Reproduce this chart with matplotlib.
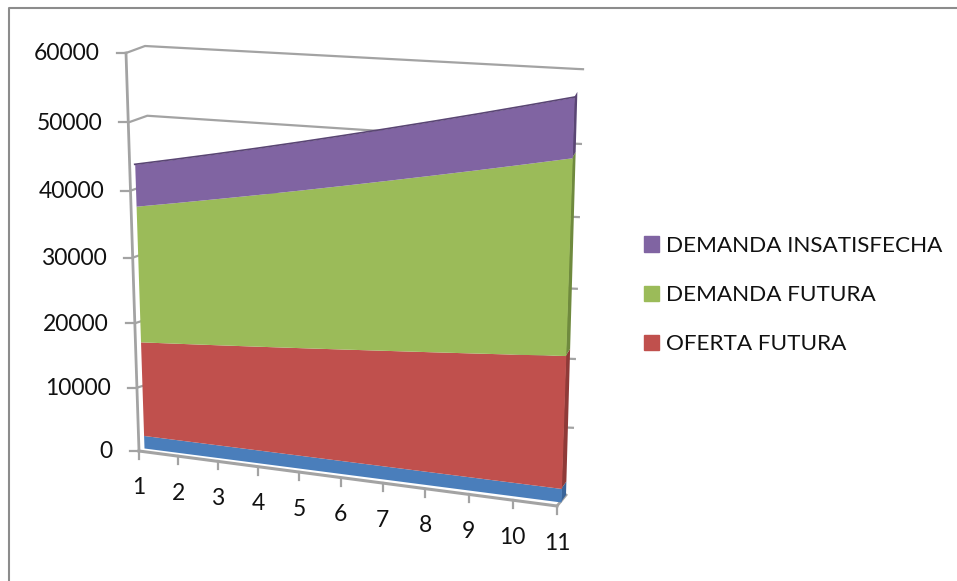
import matplotlib
matplotlib.use("Agg")
import matplotlib.pyplot as plt
import numpy as np
from matplotlib.patches import Patch
from matplotlib.transforms import Transform

plt.rcParams["font.family"] = ["Lato", "DejaVu Sans"]

periods = list(range(1, 12))
y_ticks = [0, 10000, 20000, 30000, 40000, 50000, 60000]

serie_base = [2010, 2011, 2012, 2013, 2014, 2015, 2016, 2017, 2018, 2019, 2020]
oferta_futura = [14750, 15175, 15610, 16055, 16510, 16975, 17450, 17925, 18410, 18905, 19400]
demanda_futura = [20640, 21246, 21873, 22508, 23164, 23840, 24526, 25232, 25948, 26684, 27440]
demanda_insatisfecha = [6200, 6346, 6492, 6658, 6834, 7020, 7216, 7422, 7638, 7864, 8100]

BLUE, RED, GREEN, PURPLE = "#4a7ebb", "#c0504d", "#9bbb59", "#8064a2"
BLUE_D, RED_D, GREEN_D, PURPLE_D = "#3a6499", "#8f3a38", "#6f8a3e", "#5a4674"
GRID = "#a3a3a3"


class PlaneTransform(Transform):
    """Perspective mapping of (period, value) onto one plane of the 3D box."""

    input_dims = output_dims = 2

    def __init__(self, corners):
        super().__init__()
        src = [(1, 0), (11, 0), (1, 60000), (11, 60000)]
        rows, rhs = [], []
        for (u, v), (px, py) in zip(src, corners):
            u, v = (u - 1) / 10, v / 60000
            rows.append([u, v, 1, 0, 0, 0, -u * px, -v * px])
            rows.append([0, 0, 0, u, v, 1, -u * py, -v * py])
            rhs += [px, py]
        self.h = np.append(np.linalg.solve(rows, rhs), 1).reshape(3, 3)

    def transform_non_affine(self, values):
        pts = np.asarray(values, float)
        u, v = (pts[:, 0] - 1) / 10, pts[:, 1] / 60000
        res = np.column_stack([u, v, np.ones(len(u))]) @ self.h.T
        return res[:, :2] / res[:, 2:]


# corners are bottom-left, bottom-right, top-left, top-right of each plane
front = PlaneTransform([(139, 451), (557, 506), (126, 53), (569, 81)])
face = PlaneTransform([(144, 448), (561, 502), (131, 51), (575, 74)])
wall = PlaneTransform([(158, 445), (566, 495), (145, 46), (578, 69)])

fig = plt.figure(figsize=(9.57, 5.81), dpi=100)
ax = fig.add_axes([0, 0, 1, 1])
ax.set_xlim(0, 957)
ax.set_ylim(581, 0)
ax.set_autoscale_on(False)
ax.axis("off")

# chart frame: only the top and left edges are inside the canvas
ax.plot([9, 9, 957], [581, 8, 8], color="#8c8c8c", lw=1.5)

# back wall and side wall gridlines
for v in y_ticks:
    p_front = front.transform([(1, v)])[0]
    p_back = wall.transform([(1, v)])[0]
    p_right = wall.transform([(11, v)])[0]
    if v > 0:
        ax.plot([p_front[0], p_back[0], p_right[0], p_right[0] + 5],
                [p_front[1], p_back[1], p_right[1], p_right[1] + 0.2],
                color=GRID, lw=1.6, zorder=1)
    ax.plot([p_front[0] - 9, p_front[0]], [p_front[1], p_front[1]], color=GRID, lw=1.6, zorder=1)
    ax.annotate(str(v), xy=(1, v), xycoords=front + ax.transData, xytext=(-26, -1),
                textcoords="offset pixels", ha="right", va="center", fontsize=16.5, color="#111111")

# value axis and category axis
ax.plot([1, 1], [0, 60000], transform=front + ax.transData, color=GRID, lw=2, zorder=1)
ax.plot([1, 11], [0, 0], transform=front + ax.transData, color=GRID, lw=2.2, zorder=1)
corner = np.vstack([front.transform([(11, 0)]), wall.transform([(11, 0)])])
ax.plot(corner[:, 0], corner[:, 1], color=GRID, lw=2, zorder=1)

for i in periods:
    px, py = front.transform([(i, 0)])[0]
    ax.plot([px, px], [py, py + 8], color=GRID, lw=1.6, zorder=1)
    ax.annotate(str(i), xy=(i, 0), xycoords=front + ax.transData, xytext=(0, -37),
                textcoords="offset pixels", ha="center", va="center", fontsize=16.5, color="#111111")

# stacked areas
series = [
    (serie_base, BLUE, BLUE_D),
    (oferta_futura, RED, RED_D),
    (demanda_futura, GREEN, GREEN_D),
    (demanda_insatisfecha, PURPLE, PURPLE_D),
]
bottom = np.zeros(len(periods))
for values, color, dark in series:
    top = bottom + np.array(values)
    # end cap running back to the wall
    cap = np.vstack([
        face.transform([(11, bottom[-1]), (11, top[-1])]),
        wall.transform([(11, top[-1]), (11, bottom[-1])]),
    ])
    ax.fill(cap[:, 0], cap[:, 1], color=dark, lw=0, zorder=2)
    ax.fill_between(periods, bottom, top, transform=face + ax.transData,
                    color=color, lw=0, zorder=3)
    bottom = top

ax.plot(periods, bottom, transform=face + ax.transData, color=PURPLE_D, lw=1.2, zorder=4)

handles = [
    Patch(color=PURPLE, label="DEMANDA INSATISFECHA"),
    Patch(color=GREEN, label="DEMANDA FUTURA"),
    Patch(color=RED, label="OFERTA FUTURA"),
]
ax.legend(handles=handles, loc="upper left", bbox_to_anchor=(644, 236), bbox_transform=ax.transData,
          frameon=False, fontsize=16.2, borderpad=0, borderaxespad=0, handlelength=0.67,
          handleheight=0.67, handletextpad=0.32, labelspacing=1.3, labelcolor="#111111")

fig.savefig("out.png", dpi=100)
